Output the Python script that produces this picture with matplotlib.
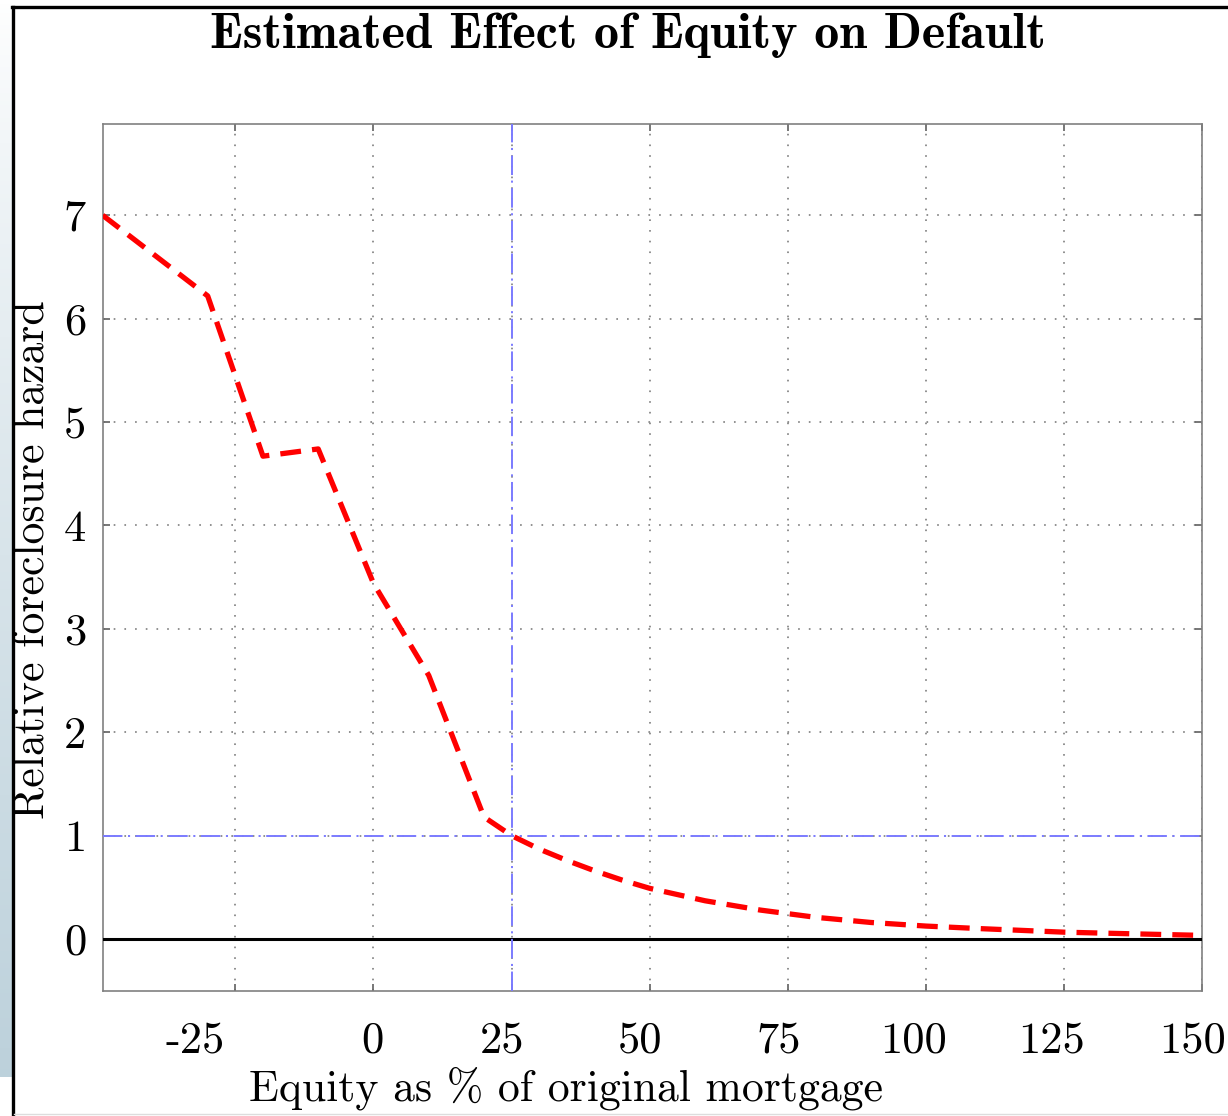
import numpy as np
import matplotlib
matplotlib.use("Agg")
import matplotlib.pyplot as plt
import matplotlib.transforms as mtransforms
from matplotlib.lines import Line2D

plt.rcParams['font.family'] = ['cmr10', 'DejaVu Serif']
plt.rcParams['axes.unicode_minus'] = False
plt.rcParams['lines.scale_dashes'] = False

# Data
equity = [-49, -30, -20, -10, 0, 10, 20, 25, 30, 35, 40, 45, 50, 60, 70, 75,
          80, 90, 100, 110, 125, 137.5, 150]
hazard = [7.0, 6.22, 4.67, 4.74, 3.44, 2.55, 1.18, 1.0, 0.87, 0.76, 0.66, 0.57,
          0.49, 0.37, 0.28, 0.245, 0.21, 0.16, 0.125, 0.10, 0.066, 0.05, 0.035]
xticks = [-25, 0, 25, 50, 75, 100, 125, 150]
xticklabels = ["-25", "0", "25", "50", "75", "100", "125", "150"]
yticks = [0, 1, 2, 3, 4, 5, 6, 7]
ref_x = 25
ref_y = 1

# style: horizontal shift of x tick labels (pixels)
xlabel_shift = [-40, -1, -10, -10, -9, -13, -13, -10]

W, H = 1228, 1116
fig = plt.figure(figsize=(W / 100, H / 100), dpi=100)
fig.patch.set_facecolor('white')

def fx(px):
    return px / W

def fy(py):
    return 1 - py / H

# left gradient strip
gax = fig.add_axes([0, fy(1077), fx(12), fy(0) - fy(1077)])
grad = np.linspace(0, 1, 256).reshape(-1, 1)
c_top = np.array([1.0, 1.0, 1.0])
c_bot = np.array([0.74, 0.82, 0.86])
g = grad[:, :, None] ** 0.8
img = c_top[None, None, :] * (1 - g) + c_bot[None, None, :] * g
gax.imshow(img, aspect='auto', extent=[0, 1, 0, 1])
gax.set_axis_off()

# figure border
fig.add_artist(Line2D([fx(13), fx(13)], [fy(7), 0], color='black', lw=2.4, transform=fig.transFigure))
fig.add_artist(Line2D([fx(12), 1], [fy(7), fy(7)], color='black', lw=2.4, transform=fig.transFigure))
fig.add_artist(Line2D([fx(14), 1], [fy(1114), fy(1114)], color='#dddddd', lw=1.0, transform=fig.transFigure))

left, right, top, bottom = 102.7, 1202.3, 124.3, 990.7
ax = fig.add_axes([fx(left), fy(bottom), fx(right) - fx(left), fy(top) - fy(bottom)])
ax.set_xlim(-49, 150)
ax.set_ylim(-0.5, 7.88)

ax.grid(True, color='#888888', linestyle=(0, (1.2, 6.5)), linewidth=1.3)
ax.set_axisbelow(True)

ax.axhline(0, color='black', lw=2.2, zorder=3)
ax.axhline(ref_y, color='#7b7bff', lw=1.4, linestyle=(0, (14, 4, 1.5, 4)), zorder=3)
ax.axvline(ref_x, color='#7b7bff', lw=1.4, linestyle=(0, (14, 4, 1.5, 4)), zorder=3)
ax.plot(equity, hazard, color='#ff0000', lw=3.8, linestyle=(0, (15, 8)), zorder=4)

ax.set_xticks(xticks)
ax.set_xticklabels(xticklabels)
ax.set_yticks(yticks)
for s in ax.spines.values():
    s.set_color('#808080')
    s.set_linewidth(1.2)
ax.tick_params(direction='in', length=5, width=1.2, color='#606060',
               top=True, right=True, labelsize=32, colors='black')
ax.tick_params(axis='x', pad=22)
ax.tick_params(axis='y', pad=12)

for lab, dx in zip(ax.get_xticklabels(), xlabel_shift):
    lab.set_transform(lab.get_transform() +
                      mtransforms.ScaledTranslation(dx / 100, 0, fig.dpi_scale_trans))

fig.text(fx(628), fy(35), "Estimated Effect of Equity on Default",
         family=['cmb10', 'DejaVu Serif'], fontsize=36, ha='center', va='center')
fig.text(fx(566), fy(1088), "Equity as % of original mortgage",
         fontsize=31.5, ha='center', va='center')
fig.text(fx(32), fy(560), "Relative foreclosure hazard",
         fontsize=31.5, ha='center', va='center', rotation=90)

fig.savefig("out.png", dpi=100)
